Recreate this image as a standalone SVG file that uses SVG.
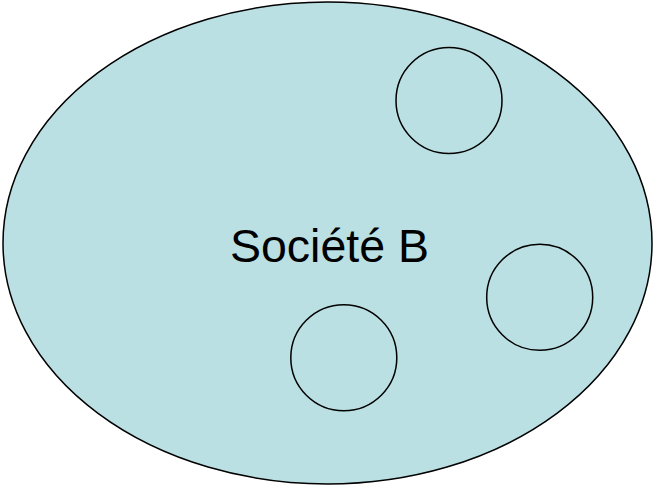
<svg xmlns="http://www.w3.org/2000/svg" width="655" height="486" viewBox="0 0 655 486">
<style>
.sub{fill:none;stroke:#000;stroke-width:1.5}
.lbl{font-family:"Liberation Sans",Arial,sans-serif;font-size:46.5px;fill:#000}
</style>
<rect width="655" height="486" fill="#fff"/>
<g id="societe-b">
<ellipse cx="327.5" cy="243" rx="324.5" ry="241" fill="#BAE0E3" stroke="#000" stroke-width="1.5"/>
<text class="lbl" x="329.5" y="262" text-anchor="middle">Société B</text>
</g>
<g id="c1"><circle class="sub" cx="449" cy="100.5" r="53"/></g>
<g id="c2"><circle class="sub" cx="539.7" cy="297.3" r="53"/></g>
<g id="c3"><circle class="sub" cx="343.8" cy="357.8" r="53"/></g>
<g id="connectors"/>
</svg>
